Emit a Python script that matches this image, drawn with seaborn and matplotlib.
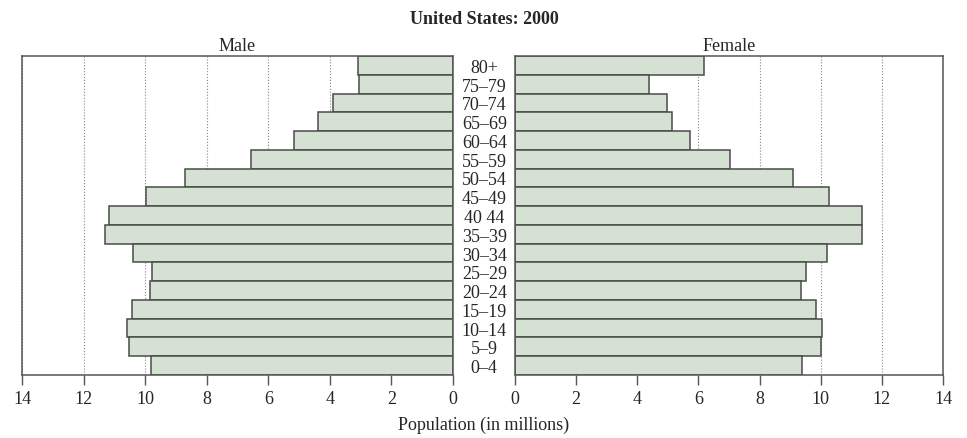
import pandas as pd
import matplotlib
matplotlib.use("Agg")
import matplotlib.pyplot as plt
import seaborn as sns

# Data (millions), top row first
age_groups = ["80+", "75–79", "70–74", "65–69", "60–64", "55–59", "50–54", "45–49",
              "40 44", "35–39", "30–34", "25–29", "20–24", "15–19", "10–14", "5–9", "0–4"]
male = [3.08, 3.05, 3.9, 4.4, 5.17, 6.55, 8.7, 9.98, 11.19, 11.31, 10.39, 9.79,
        9.84, 10.42, 10.58, 10.51, 9.82]
female = [6.18, 4.39, 4.96, 5.15, 5.72, 7.03, 9.1, 10.27, 11.36, 11.34, 10.21, 9.53,
          9.37, 9.86, 10.05, 10.0, 9.4]
x_ticks = [0, 2, 4, 6, 8, 10, 12, 14]

df = pd.DataFrame({"age": age_groups, "male": male, "female": female})

sns.set_style("white")
plt.rcParams['font.family'] = ['Liberation Serif', 'DejaVu Serif']
plt.rcParams['font.size'] = 13

bar_fill = '#d5e1d2'
bar_edge = '#4a4a4a'
frame_col = '#555555'

fig = plt.figure(figsize=(9.67, 4.39), dpi=100)
ax_m = fig.add_axes([0.0228, 0.1435, 0.4457, 0.7267])
ax_f = fig.add_axes([0.5326, 0.1435, 0.4426, 0.7267])

for ax, col in [(ax_m, "male"), (ax_f, "female")]:
    ax.set_axisbelow(True)
    ax.grid(axis='x', color='#888888', linestyle=':', linewidth=0.8)
    sns.barplot(data=df, x=col, y="age", orient='h', width=1.0, color=bar_fill,
                saturation=1, edgecolor=bar_edge, linewidth=1.1, ax=ax)
    ax.set_ylim(len(age_groups) - 0.5, -0.5)
    ax.set_xticks(x_ticks)
    ax.set_xlabel("")
    ax.set_ylabel("")
    ax.tick_params(axis='x', direction='out', length=7, width=1, color=frame_col,
                   labelsize=13, pad=4, bottom=True)
    for s in ax.spines.values():
        s.set_color(frame_col)
        s.set_linewidth(1.1)

ax_m.set_xlim(14, 0)
ax_f.set_xlim(0, 14)

# age labels sit centred between the two panels
ax_m.yaxis.tick_right()
ax_m.tick_params(axis='y', length=0, pad=22.5, labelsize=13)
for lab in ax_m.get_yticklabels():
    lab.set_horizontalalignment('center')
ax_f.tick_params(axis='y', left=False, labelleft=False)

ax_m.set_title("Male", fontsize=13, pad=4)
ax_f.set_title("Female", fontsize=13, pad=4)

fig.text(0.5005, 0.955, "United States: 2000", ha='center', va='center',
         fontsize=13, fontweight='bold')
fig.text(0.5005, 0.032, "Population (in millions)", ha='center', va='center', fontsize=13)

fig.savefig("out.png", dpi=100)
